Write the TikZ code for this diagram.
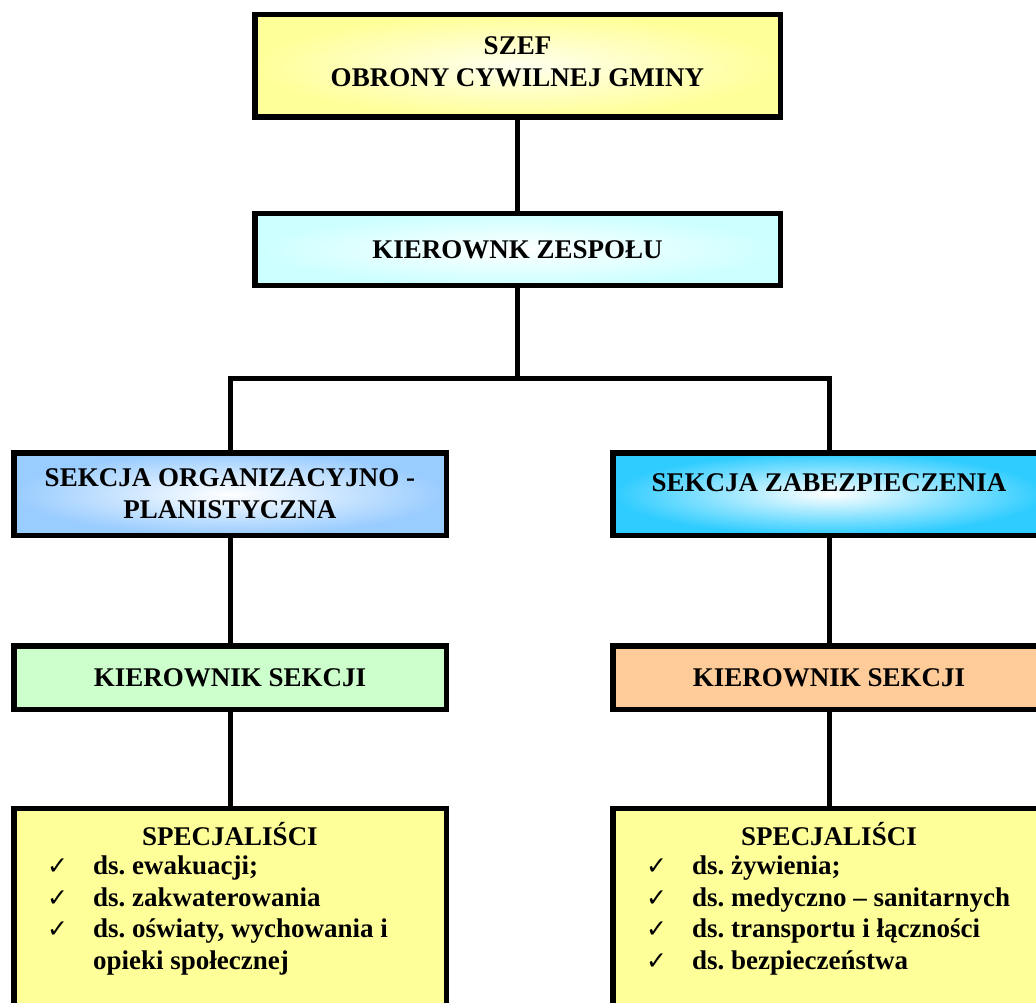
\documentclass[tikz,border=0pt]{standalone}
\usepackage{fontspec}
\setmainfont{Liberation Serif}
\newfontfamily\symfont{DejaVu Sans}
\usepackage{xcolor}
\usepackage{tikz}
\usetikzlibrary{positioning}

\definecolor{chiefyellow}{HTML}{FFFF99}
\definecolor{teamcyan}{HTML}{CCFFFF}
\definecolor{orgblue}{HTML}{99CCFF}
\definecolor{secblue}{HTML}{2ECCFF}
\definecolor{leadgreen}{HTML}{CCFFCC}
\definecolor{leadorange}{HTML}{FFCC99}
\definecolor{specyellow}{HTML}{FFFF99}

\newcommand{\ck}{\makebox[46pt][l]{\smash{\symfont\fontsize{25}{25}\selectfont ✓}}}

\frenchspacing
\begin{document}
\begin{tikzpicture}[
  x=1pt, y=-1pt,
  box/.style={rectangle, draw, line width=5.5pt, align=center,
    font=\fontsize{27}{32}\selectfont\bfseries},
  chief/.style={box, shading=radial, inner color=yellow!6, outer color=chiefyellow,
    minimum width=525.5pt, minimum height=102.5pt},
  team/.style={box, shading=radial, inner color=white, outer color=teamcyan,
    minimum width=525.5pt, minimum height=71.5pt},
  section/.style={box, shading=radial, inner color=white,
    minimum width=432.5pt, minimum height=82.5pt},
  lead/.style={box, minimum width=432.5pt, minimum height=63.5pt},
  spec/.style={box, fill=specyellow, minimum width=432.5pt, minimum height=254.5pt},
  head/.style={inner sep=0pt, font=\fontsize{27}{32}\selectfont\bfseries},
  items/.style={inner sep=0pt, align=left, font=\fontsize{27}{31.5}\selectfont\bfseries},
  link/.style={line width=5pt, line join=miter}
]
  \useasboundingbox (0,0) rectangle (1036,1003);
  \clip (0,0) rectangle (1036,1003);

  \node[chief, text depth=8pt] (szef) at (517.5,66) {SZEF\\OBRONY CYWILNEJ GMINY};
  \node[team] (zesp) at (517.5,249.5) {KIEROWNK ZESPOŁU};
  \coordinate (bus) at (517.5,378);

  \node[section, outer color=orgblue] (sekL) at (230,494)
    {SEKCJA ORGANIZACYJNO -\\PLANISTYCZNA};
  \node[section, outer color=secblue, text depth=22pt] (sekR) at (829,494)
    {SEKCJA ZABEZPIECZENIA};

  \node[lead, fill=leadgreen] (ksL) at (230,677.5) {KIEROWNIK SEKCJI};
  \node[lead, fill=leadorange] (ksR) at (829,677.5) {KIEROWNIK SEKCJI};

  \node[spec] (spL) at (230,935.5) {};
  \node[spec] (spR) at (829,935.5) {};

  % specjalisci
  \node[head, anchor=base] (spLhead) at (230,845) {SPECJALIŚCI};
  \node[items, anchor=north west] (spLlist) at (47,856)
    {\ck ds. ewakuacji;\\
     \ck ds. zakwaterowania\\
     \ck ds. oświaty, wychowania i\\
     \hspace*{46pt}opieki społecznej};
  \node[head, anchor=base] (spRhead) at (829,845) {SPECJALIŚCI};
  \node[items, anchor=north west] (spRlist) at (646,856)
    {\ck ds. żywienia;\\
     \ck ds. medyczno – sanitarnych\\
     \ck ds. transportu i łączności\\
     \ck ds. bezpieczeństwa};

  \draw[link] (szef) -- (zesp);
  \draw[link] (zesp) -- (bus);
  \draw[link] (sekL.north) |- (bus) -| (sekR.north);
  \draw[link] (sekL) -- (ksL);
  \draw[link] (sekR) -- (ksR);
  \draw[link] (ksL) -- (spL);
  \draw[link] (ksR) -- (spR);
\end{tikzpicture}
\end{document}
